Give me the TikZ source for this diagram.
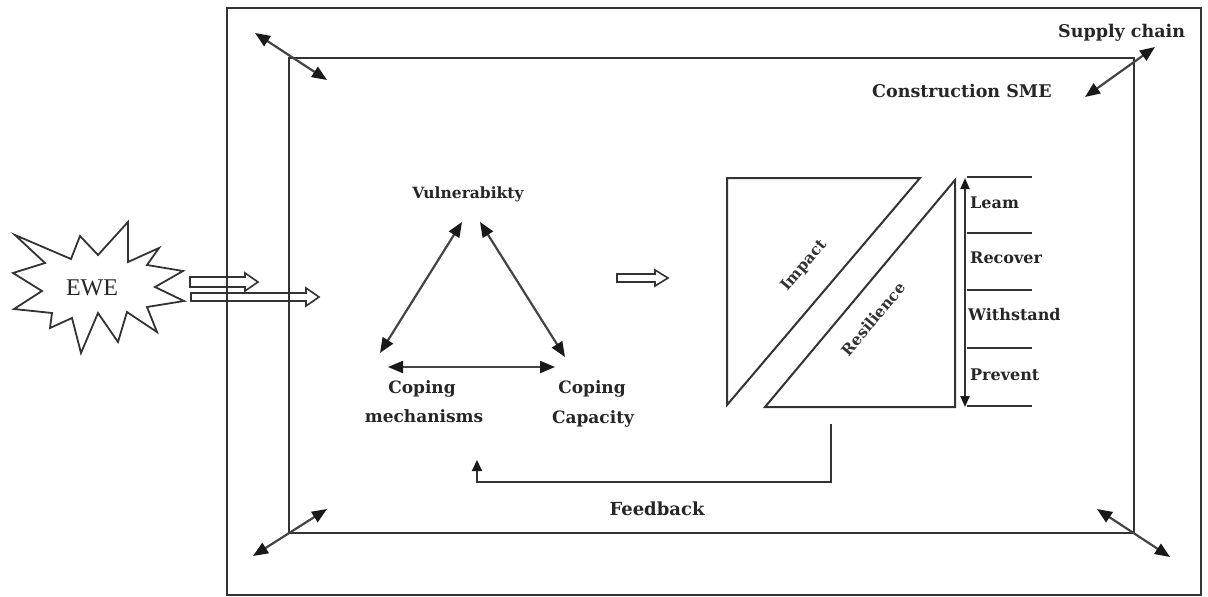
\documentclass[tikz,border=0pt]{standalone}
\usepackage{fontspec}
\setmainfont{DejaVu Serif}
\newfontfamily\timesf{Liberation Serif}
\usetikzlibrary{arrows.meta}
\definecolor{ink}{HTML}{333333}
\definecolor{lin}{HTML}{444444}
\tikzset{
  frameline/.style={draw=ink, line width=2.4pt},
  thinline/.style={draw=ink, line width=2pt},
  dblarrow/.style={draw=lin, line width=2.2pt,
    {Triangle[length=15pt,width=12pt,color=black!90]}-{Triangle[length=15pt,width=12pt,color=black!90]}},
  smallarrow/.style={draw=ink, line width=2pt,
    {Triangle[length=11pt,width=9pt,color=black!90]}-{Triangle[length=11pt,width=9pt,color=black!90]}},
  fbarrow/.style={draw=ink, line width=2pt, -{Triangle[length=11pt,width=10pt,color=black!90]}},
  hollow/.style={draw=ink, line width=1.6pt, line join=miter},
  bigtxt/.style={font=\bfseries\fontsize{17.5}{20}\selectfont, inner sep=0pt, text=black!85},
  midtxt/.style={font=\bfseries\fontsize{17}{20}\selectfont, inner sep=0pt, text=black!85},
  steptxt/.style={font=\bfseries\fontsize{16}{18}\selectfont, inner sep=0pt, text=black!85},
  diagtxt/.style={font=\bfseries\fontsize{15.5}{18}\selectfont, inner sep=0pt, text=black!80},
}
\begin{document}
\begin{tikzpicture}[x=1pt,y=-1pt]
\useasboundingbox (0,0) rectangle (1208,597);

% hollow arrows from EWE
\draw[hollow] (190,277) -- (245,277) -- (245,273) -- (258,282) -- (245,291) -- (245,287) -- (190,287) -- cycle;
\draw[hollow] (191,293) -- (306,293) -- (306,288) -- (319,297) -- (306,306) -- (306,301) -- (191,301) -- cycle;

% frames
\draw[frameline] (227,8) rectangle (1201,595);
\draw[thinline] (289,58) rectangle (1134,533);

% corner arrows
\coordinate (tla) at (255,33); \coordinate (tlb) at (327,80);
\coordinate (tra) at (1085,97); \coordinate (trb) at (1155,47);
\coordinate (bla) at (253,556); \coordinate (blb) at (327,509);
\coordinate (bra) at (1097,509); \coordinate (brb) at (1170,557);
\draw[dblarrow] (tla) -- (tlb);
\draw[dblarrow] (tra) -- (trb);
\draw[dblarrow] (bla) -- (blb);
\draw[dblarrow] (bra) -- (brb);

% labels of frames
\node[bigtxt, anchor=base west] (supply) at (1058,37) {Supply chain};
\node[bigtxt, anchor=base west] (sme) at (872,97) {Construction SME};

% EWE star
\draw[ink, line width=1.8pt, line join=miter, fill=white]
 (15,235) -- (71,259) -- (80,236) -- (98,255) -- (128,222) -- (128,262) --
 (159,248) -- (147,265) -- (183,271) -- (155,287) -- (184,301) -- (147,307) --
 (157,332) -- (127,312) -- (118,342) -- (98,313) -- (81,353) -- (72,318) --
 (50,328) -- (52,313) -- (14,309) -- (42,291) -- (13,273) -- (45,263) -- cycle;
\node[font=\timesf\fontsize{24}{26}\selectfont, inner sep=0pt, anchor=base, text=black!85] (ewe) at (92,295) {EWE};

% triangle of concepts
\node[midtxt, font=\bfseries\fontsize{15.5}{18}\selectfont, anchor=base] (vul) at (468,198) {Vulnerabikty};
\node[midtxt, anchor=base] (cop1) at (422,393) {Coping};
\node[midtxt, anchor=base] (mech) at (424,422) {mechanisms};
\node[midtxt, anchor=base] (cop2) at (592,393) {Coping};
\node[midtxt, anchor=base] (capa) at (593,423) {Capacity};
\coordinate (vL) at (462,222); \coordinate (mL) at (380,353);
\coordinate (vR) at (480,222); \coordinate (cR) at (565,357);
\coordinate (bL) at (388,367); \coordinate (bR) at (555,367);
\draw[dblarrow] (vL) -- (mL);
\draw[dblarrow] (vR) -- (cR);
\draw[dblarrow] (bL) -- (bR);

% middle hollow arrow
\draw[hollow] (617,274) -- (655,274) -- (655,270) -- (668,278) -- (655,286) -- (655,282) -- (617,282) -- cycle;

% impact / resilience box
\draw[thinline, line join=miter] (727,178) -- (920,178) -- (727,405) -- cycle;
\draw[thinline, line join=miter] (955,180) -- (955,407) -- (765,407) -- cycle;
\node[diagtxt, rotate=49.6] (imp) at (804,266) {Impact};
\node[diagtxt, rotate=50] (res) at (873,319) {Resilience};

% steps
\coordinate (sTop) at (965,178); \coordinate (sBot) at (965,407);
\draw[smallarrow] (sTop) -- (sBot);
\foreach \yy in {177,233,290,348,406} \draw[ink, line width=2pt] (967,\yy) -- (1032,\yy);
\node[steptxt, anchor=base west] (learn) at (970,208) {Leam};
\node[steptxt, anchor=base west] (recov) at (970,263) {Recover};
\node[steptxt, anchor=base west] (withs) at (968,320) {Withstand};
\node[steptxt, anchor=base west] (prev) at (970,380) {Prevent};

% feedback
\coordinate (fbs) at (831,424); \coordinate (fbc) at (831,482); \coordinate (fbe) at (477,460);
\draw[fbarrow] (fbs) -- (fbc) -| (fbe);
\node[bigtxt, font=\bfseries\fontsize{18}{20}\selectfont, anchor=base] (feed) at (657,515) {Feedback};
\end{tikzpicture}
\end{document}
